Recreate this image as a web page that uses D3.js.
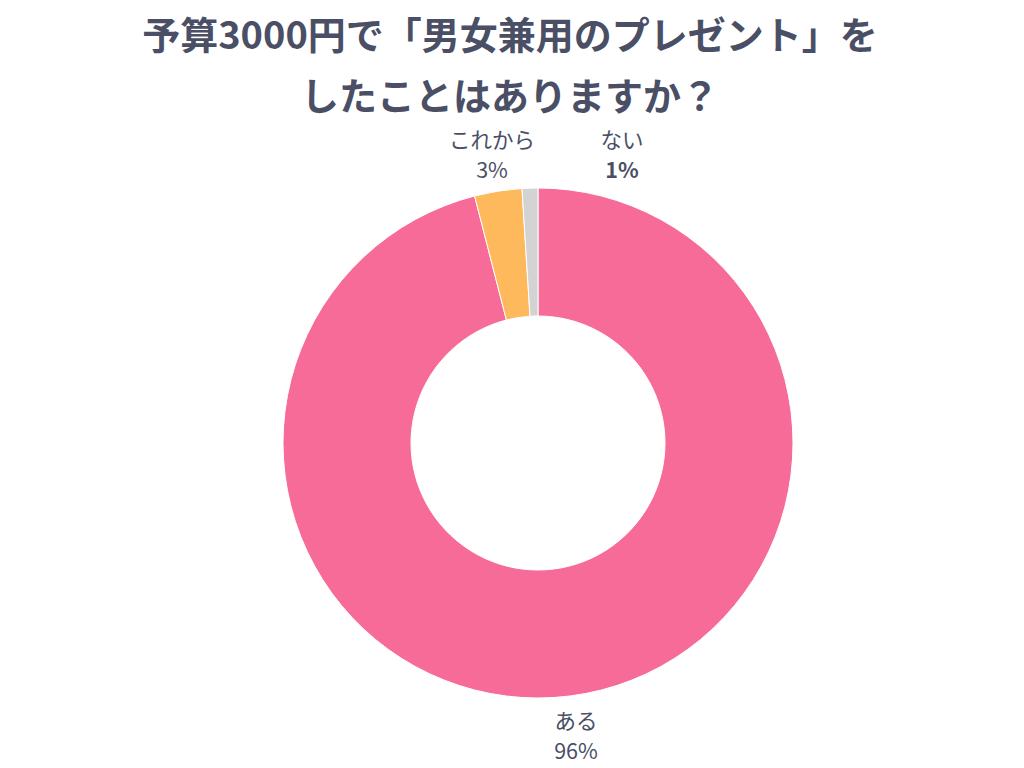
<!DOCTYPE html>
<html><head><meta charset="utf-8">
<script src="https://cdn.jsdelivr.net/npm/d3@7"></script>
<style>body{margin:0;background:#fff;}svg{display:block;}</style>
</head><body>
<svg id="c" width="1024" height="768"></svg>
<script>
const categories = ["ある", "これから", "ない"];
const values = [96, 3, 1];
const valueLabels = ["96%", "3%", "1%"];
const colors = ["#F66B97", "#FDB95B", "#D3D3D3"];
const titleLines = ["予算3000円で「男女兼用のプレゼント」を", "したことはありますか？"];

const svg = d3.select("#c");
const font = "'Noto Sans CJK JP','Noto Sans',sans-serif";
const textColor = "#4A4F65";

svg.selectAll("text.title").data(titleLines).join("text")
  .attr("class","title")
  .attr("x", 510).attr("y", (d,i)=> 49 + i*61)
  .attr("text-anchor","middle")
  .attr("font-family", font).attr("font-weight", 700).attr("font-size", 38)
  .attr("fill", textColor).text(d=>d);

const cx = 538, cy = 443, R = 255, r = 127;
const pie = d3.pie().sort(null).value(d=>d);
const arc = d3.arc().innerRadius(r).outerRadius(R);
const g = svg.append("g").attr("transform", `translate(${cx},${cy})`);
const arcs = pie(values);
g.selectAll("path").data(arcs).join("path")
  .attr("d", arc).attr("fill", (d,i)=>colors[i])
  .attr("stroke","#fff").attr("stroke-width",1);

const labelPos = [
  {x: 576, y: 729},
  {x: 492, y: 148},
  {x: 622, y: 148}
];
categories.forEach((c,i)=>{
  const t = svg.append("text").attr("text-anchor","middle")
    .attr("font-family", font).attr("font-size", 21.5).attr("fill", textColor);
  t.append("tspan").attr("x", labelPos[i].x).attr("y", labelPos[i].y).text(c);
  t.append("tspan").attr("x", labelPos[i].x).attr("y", labelPos[i].y + 30)
    .attr("font-weight", i===2 ? 700 : 400).text(valueLabels[i]);
});
</script>
</body></html>
